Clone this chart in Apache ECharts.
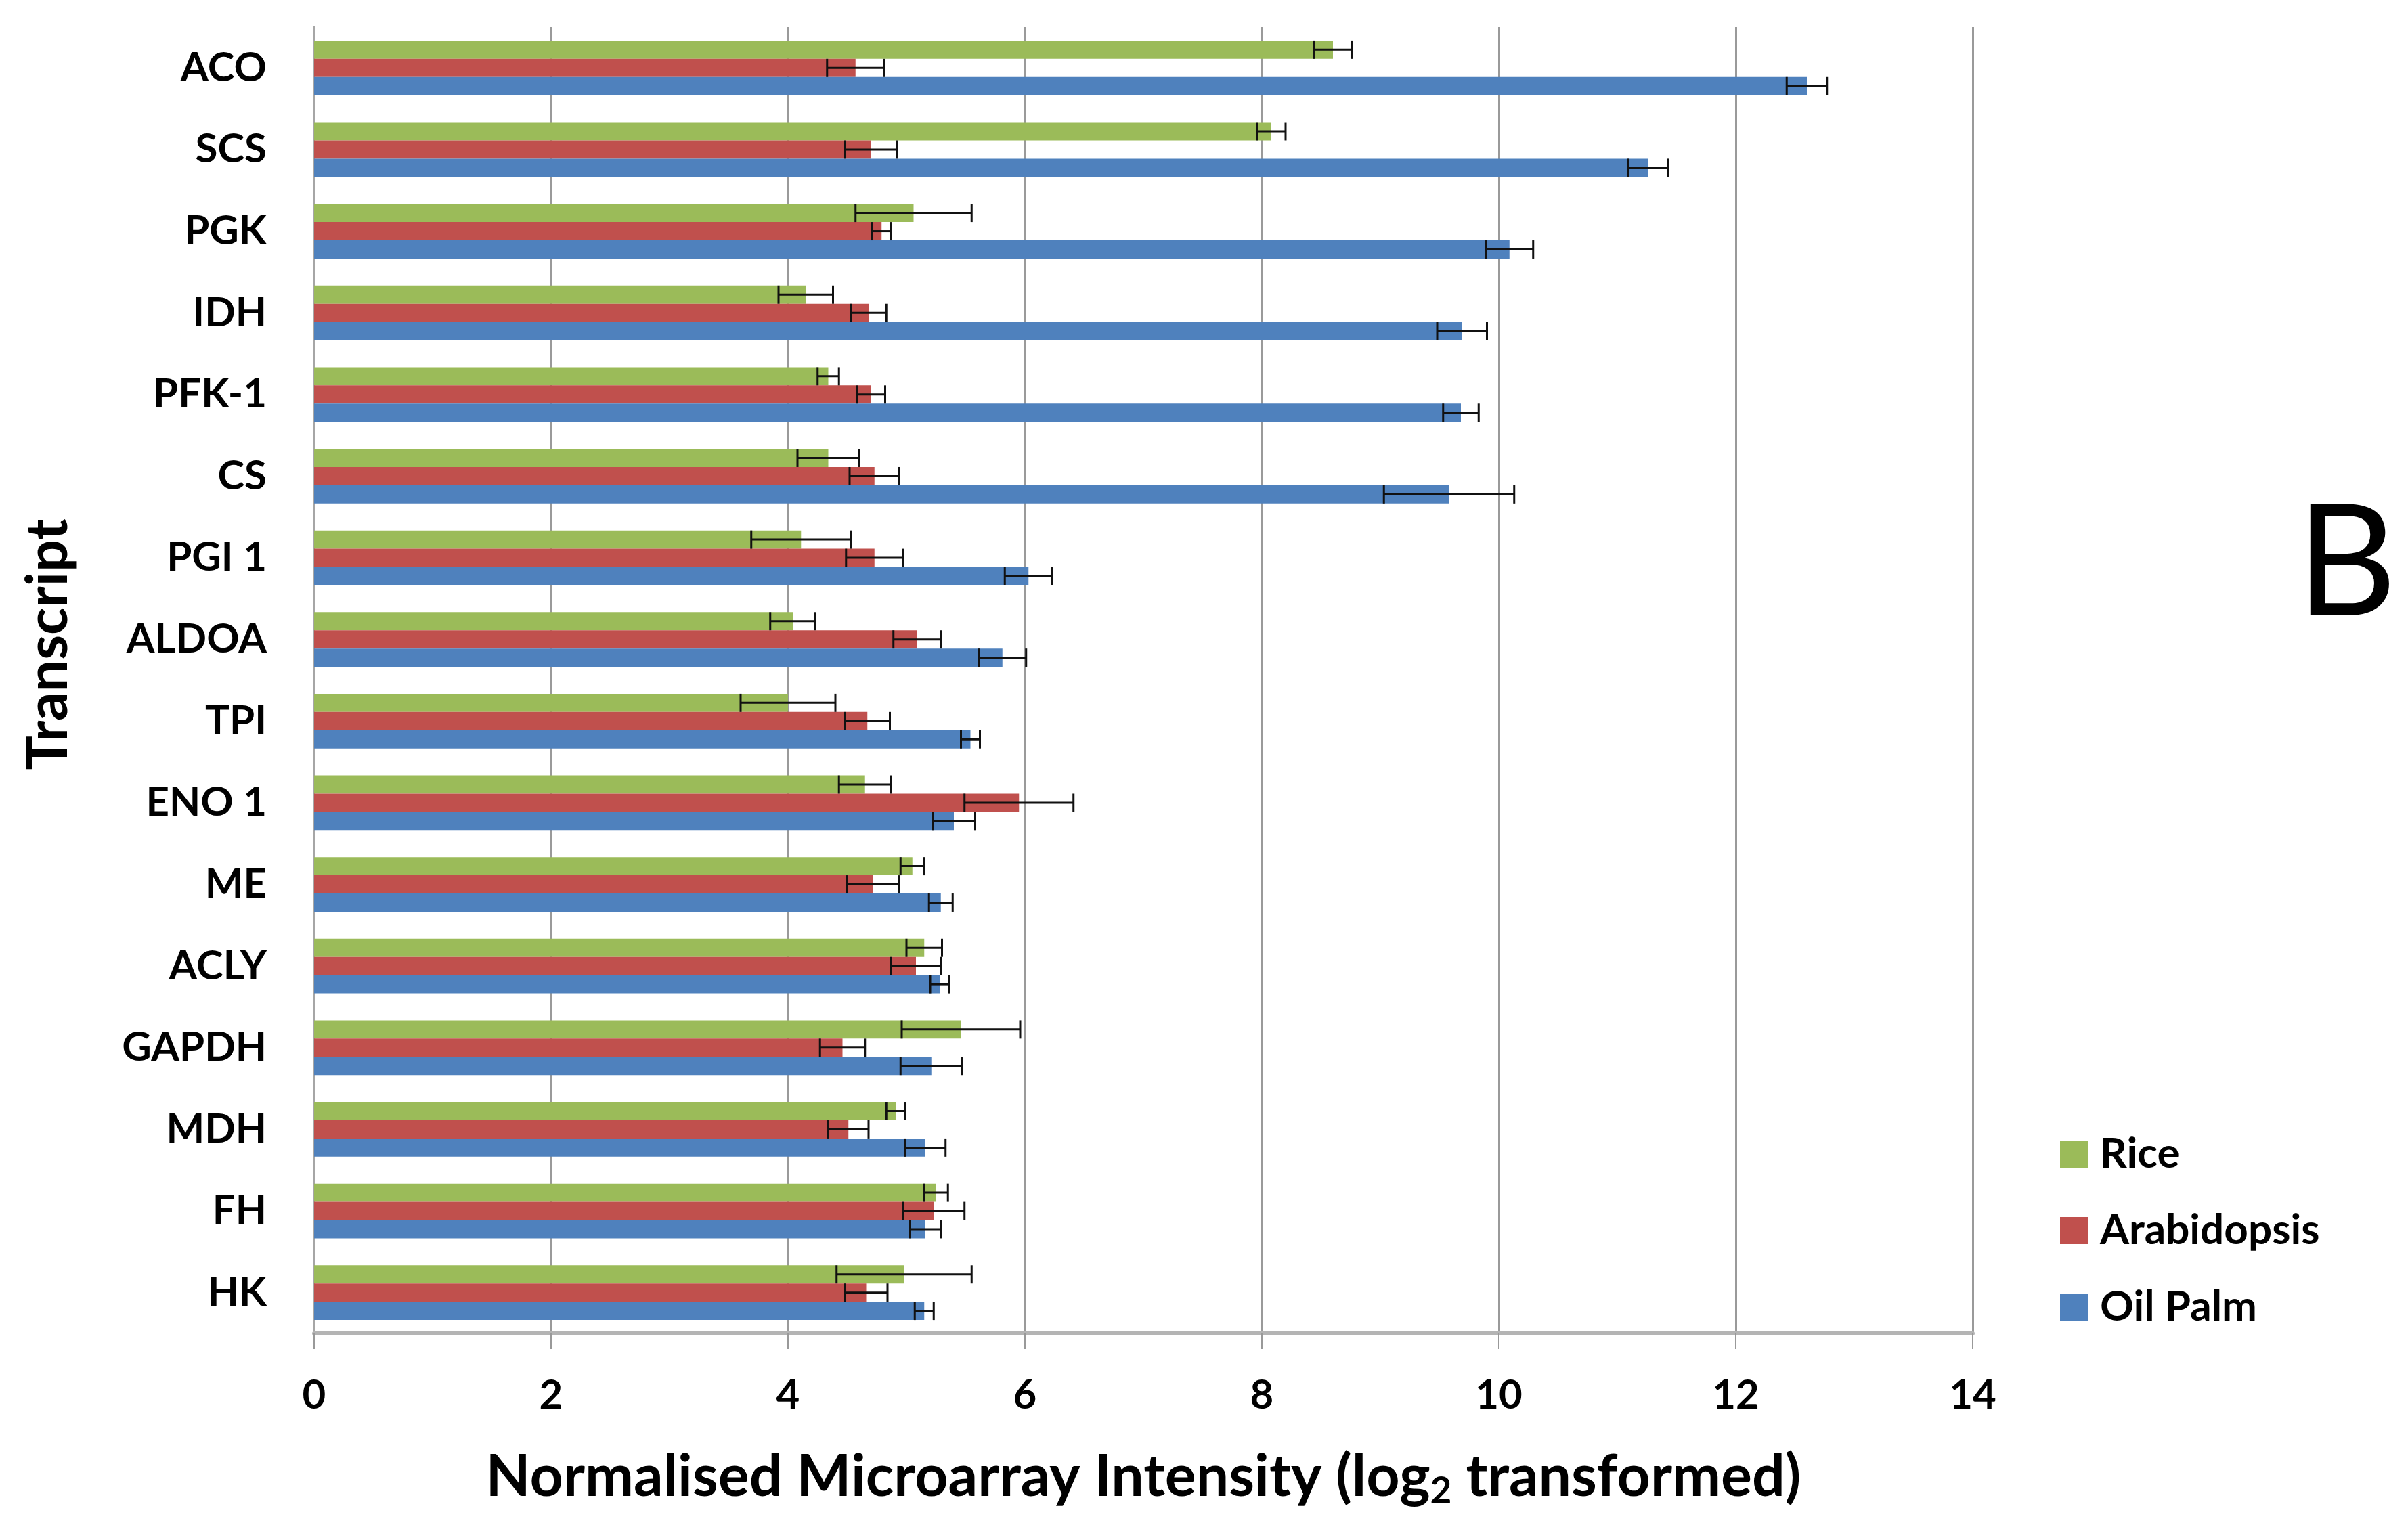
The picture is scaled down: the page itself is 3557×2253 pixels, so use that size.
<!DOCTYPE html>
<html>
<head>
    <meta charset="UTF-8">
    <title>Transcript intensity</title>
    <script src="https://cdn.jsdelivr.net/npm/echarts@6.0.0/dist/echarts.min.js"></script>
    <style>
        html, body { margin: 0; padding: 0; background: #fff; }
        #chart { width: 3557px; height: 2253px; }
    </style>
</head>
<body>
<div id="chart"></div>
<script>
    // categories, top to bottom
    const transcripts = ['ACO', 'SCS', 'PGK', 'IDH', 'PFK-1', 'CS', 'PGI 1', 'ALDOA', 'TPI', 'ENO 1', 'ME', 'ACLY', 'GAPDH', 'MDH', 'FH', 'HK'];

    const rice       = [8.60, 8.08, 5.06, 4.15, 4.34, 4.34, 4.11, 4.04, 4.00, 4.65, 5.05, 5.15, 5.46, 4.91, 5.25, 4.98];
    const riceErr    = [0.16, 0.12, 0.49, 0.23, 0.09, 0.26, 0.42, 0.19, 0.40, 0.22, 0.10, 0.15, 0.50, 0.08, 0.10, 0.57];
    const arabidopsis    = [4.57, 4.70, 4.79, 4.68, 4.70, 4.73, 4.73, 5.09, 4.67, 5.95, 4.72, 5.08, 4.46, 4.51, 5.23, 4.66];
    const arabidopsisErr = [0.24, 0.22, 0.08, 0.15, 0.12, 0.21, 0.24, 0.20, 0.19, 0.46, 0.22, 0.21, 0.19, 0.17, 0.26, 0.18];
    const oilPalm    = [12.60, 11.26, 10.09, 9.69, 9.68, 9.58, 6.03, 5.81, 5.54, 5.40, 5.29, 5.28, 5.21, 5.16, 5.16, 5.15];
    const oilPalmErr = [0.17, 0.17, 0.20, 0.21, 0.15, 0.55, 0.20, 0.20, 0.08, 0.18, 0.10, 0.08, 0.26, 0.17, 0.13, 0.08];

    const xTicks = { min: 0, max: 14, interval: 2 };

    const FONT = 'Lato';
    const GAP = 0.33;   // bar category gap

    const chart = echarts.init(document.getElementById('chart'));

    // error bar renderer, slot = position of the bar inside the category (0 top)
    function errorBars(slot) {
        return function (params, api) {
            const cat = api.value(0);
            const v = api.value(1);
            const e = api.value(2);
            const lo = api.coord([v - e, cat]);
            const hi = api.coord([v + e, cat]);
            const band = api.size([0, 1])[1];
            const bw = band * (1 - GAP) / 3;
            const y = lo[1] + (slot - 1) * bw;
            const h = bw / 2;
            const style = { stroke: '#111', lineWidth: 3 };
            return {
                type: 'group',
                children: [
                    { type: 'line', shape: { x1: lo[0], y1: y, x2: hi[0], y2: y }, style: style },
                    { type: 'line', shape: { x1: lo[0], y1: y - h, x2: lo[0], y2: y + h }, style: style },
                    { type: 'line', shape: { x1: hi[0], y1: y - h, x2: hi[0], y2: y + h }, style: style }
                ]
            };
        };
    }

    function errData(vals, errs) {
        return vals.map((v, i) => [i, v, errs[i]]);
    }

    const option = {
        animation: false,
        backgroundColor: '#fff',
        grid: { left: 464, right: 643, top: 40, bottom: 283, containLabel: false },
        legend: {
            data: ['Rice', 'Arabidopsis', 'Oil Palm'],
            orient: 'vertical',
            left: 3038,
            top: 1669,
            itemWidth: 42,
            itemHeight: 40,
            itemGap: 51,
            icon: 'rect',
            textStyle: {
                fontFamily: FONT, fontSize: 62, fontWeight: 'bold', color: '#000',
                padding: [0, 0, 0, 12]
            }
        },
        xAxis: {
            type: 'value',
            min: xTicks.min,
            max: xTicks.max,
            interval: xTicks.interval,
            name: '{t|Normalised Microarray Intensity (log}{s|2}{t| transformed)}',
            nameLocation: 'middle',
            nameGap: 164,
            nameTextStyle: {
                rich: {
                    t: { fontFamily: FONT, fontSize: 86, fontWeight: 'bold', color: '#000' },
                    s: { fontFamily: FONT, fontSize: 55, fontWeight: 'bold', color: '#000', padding: [42, 0, 0, 0] }
                }
            },
            axisLine: { show: true, lineStyle: { color: '#b4b4b4', width: 6 } },
            axisTick: { show: true, length: 23, lineStyle: { color: '#999', width: 2 } },
            axisLabel: { fontFamily: FONT, fontSize: 60, fontWeight: 'bold', color: '#000', margin: 62 },
            splitLine: { show: true, lineStyle: { color: '#9a9a9a', width: 3 } }
        },
        yAxis: {
            type: 'category',
            data: transcripts,
            inverse: true,
            name: 'Transcript',
            nameLocation: 'middle',
            nameGap: 350,
            nameTextStyle: {
                fontFamily: FONT, fontSize: 84, fontWeight: 'bold', color: '#000',
                padding: [0, 0, 0, 106]
            },
            axisLine: { show: true, lineStyle: { color: '#a6a6a6', width: 4 } },
            axisTick: { show: false },
            axisLabel: { fontFamily: FONT, fontSize: 60, fontWeight: 'bold', color: '#000', margin: 70 },
            splitLine: { show: false }
        },
        graphic: [
            {
                type: 'text',
                x: 3466,
                y: 835,
                style: {
                    text: 'B', font: '230px Lato', fill: '#000',
                    textAlign: 'center', textVerticalAlign: 'middle'
                }
            }
        ],
        series: [
            { name: 'Rice', type: 'bar', data: rice, itemStyle: { color: '#9BBB59' }, barGap: '0%', barCategoryGap: '33%' },
            { name: 'Arabidopsis', type: 'bar', data: arabidopsis, itemStyle: { color: '#C0504D' }, barGap: '0%', barCategoryGap: '33%' },
            { name: 'Oil Palm', type: 'bar', data: oilPalm, itemStyle: { color: '#4F81BD' }, barGap: '0%', barCategoryGap: '33%' },
            { name: 'riceErr', type: 'custom', renderItem: errorBars(0), data: errData(rice, riceErr), encode: { x: 1, y: 0 }, z: 10 },
            { name: 'arabErr', type: 'custom', renderItem: errorBars(1), data: errData(arabidopsis, arabidopsisErr), encode: { x: 1, y: 0 }, z: 10 },
            { name: 'oilErr', type: 'custom', renderItem: errorBars(2), data: errData(oilPalm, oilPalmErr), encode: { x: 1, y: 0 }, z: 10 }
        ]
    };

    chart.setOption(option);
</script>
</body>
</html>
